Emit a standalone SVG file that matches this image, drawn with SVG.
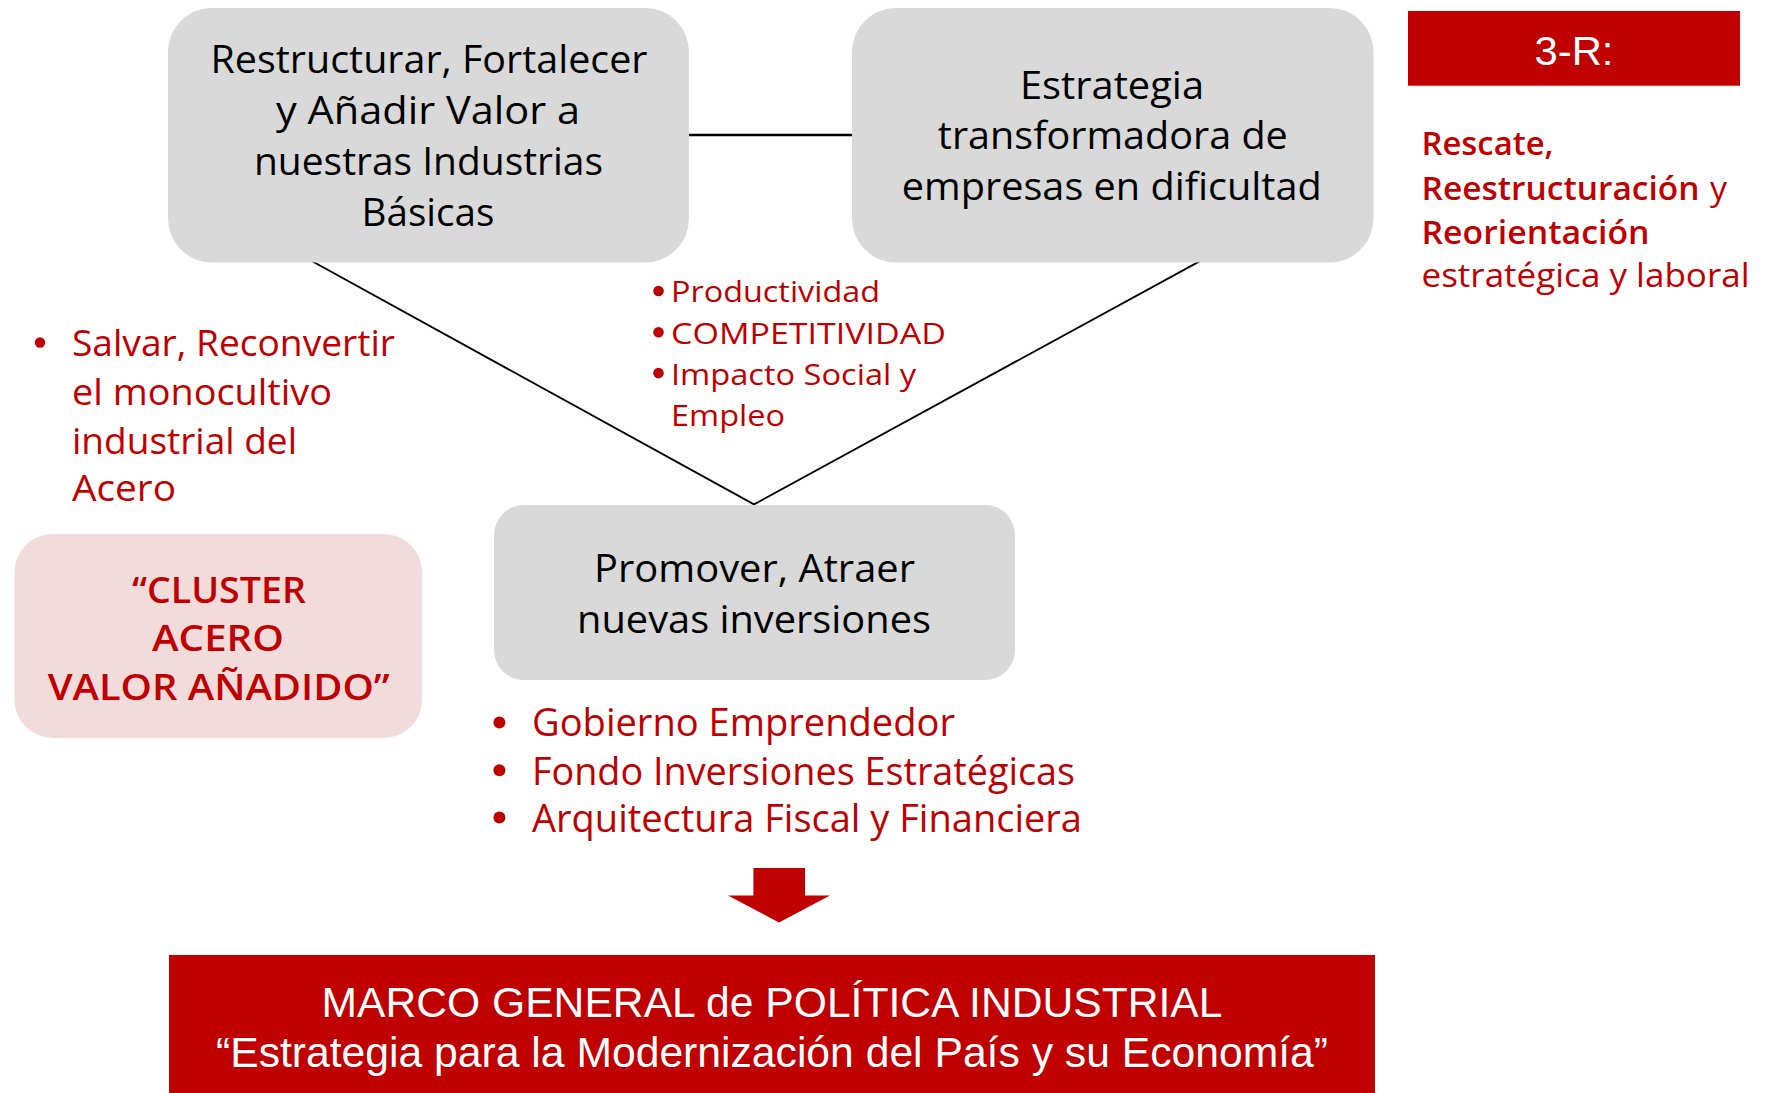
<svg xmlns="http://www.w3.org/2000/svg" width="1767" height="1093" viewBox="0 0 1767 1093">
<style>
.box{fill:#D9D9D9}
.dark{font-family:"Open Sans","Noto Sans","DejaVu Sans",sans-serif;fill:#000;font-size:38px}
.red{font-family:"Open Sans","Noto Sans","DejaVu Sans",sans-serif;fill:#C00000}
.mid{text-anchor:middle}
.arial{font-family:"Liberation Sans",Arial,sans-serif;fill:#fff}
.conn{stroke:#000;fill:none}
.dot{fill:#C00000}
</style>
<rect width="1767" height="1093" fill="#fff"/>
<g id="connectors">
<line class="conn" x1="689" y1="135" x2="853" y2="135" stroke-width="2.6"/>
<polyline class="conn" points="309,259.5 754,504.4 1199.5,261.4" stroke-width="1.8"/>
</g>
<g id="node-restructurar">
<rect class="box" x="168" y="8" width="521" height="254.5" rx="44"/>
<text class="dark mid" x="429" y="72.7" textLength="437" lengthAdjust="spacingAndGlyphs">Restructurar, Fortalecer</text>
<text class="dark mid" x="428" y="124.4" textLength="304" lengthAdjust="spacingAndGlyphs">y Añadir Valor a</text>
<text class="dark mid" x="428.5" y="175.3" textLength="349" lengthAdjust="spacingAndGlyphs">nuestras Industrias</text>
<text class="dark mid" x="428" y="225.8" textLength="133" lengthAdjust="spacingAndGlyphs">Básicas</text>
</g>
<g id="node-estrategia">
<rect class="box" x="852" y="8" width="521.5" height="254.5" rx="44"/>
<text class="dark mid" x="1112" y="98.7" textLength="184" lengthAdjust="spacingAndGlyphs">Estrategia</text>
<text class="dark mid" x="1112.8" y="149" textLength="350" lengthAdjust="spacingAndGlyphs">transformadora de</text>
<text class="dark mid" x="1111.8" y="200" textLength="420" lengthAdjust="spacingAndGlyphs">empresas en dificultad</text>
</g>
<g id="node-3r">
<rect x="1408" y="11" width="332" height="74.7" fill="#C00000"/>
<text class="arial mid" x="1574" y="65" font-size="40" textLength="79" lengthAdjust="spacingAndGlyphs">3-R:</text>
</g>
<g id="text-3r">
<text class="red" x="1421.5" y="155" font-size="32.5" font-weight="600" textLength="132" lengthAdjust="spacingAndGlyphs">Rescate,</text>
<text class="red" x="1421.5" y="199.8" font-size="32.5" font-weight="600" textLength="278" lengthAdjust="spacingAndGlyphs">Reestructuración</text>
<text class="red" x="1710" y="199.8" font-size="32.5" textLength="17" lengthAdjust="spacingAndGlyphs">y</text>
<text class="red" x="1421.5" y="243.8" font-size="32.5" font-weight="600" textLength="228" lengthAdjust="spacingAndGlyphs">Reorientación</text>
<text class="red" x="1421.5" y="287" font-size="32.5" textLength="328" lengthAdjust="spacingAndGlyphs">estratégica y laboral</text>
</g>
<g id="bullets-salvar">
<circle class="dot" cx="40" cy="342.5" r="5.2"/>
<text class="red" x="72" y="356" font-size="36" textLength="323" lengthAdjust="spacingAndGlyphs">Salvar, Reconvertir</text>
<text class="red" x="72" y="404.5" font-size="36" textLength="260" lengthAdjust="spacingAndGlyphs">el monocultivo</text>
<text class="red" x="72" y="453.5" font-size="36" textLength="225" lengthAdjust="spacingAndGlyphs">industrial del</text>
<text class="red" x="72" y="500.6" font-size="36" textLength="104" lengthAdjust="spacingAndGlyphs">Acero</text>
</g>
<g id="bullets-productividad">
<circle class="dot" cx="658.5" cy="291" r="5.3"/>
<circle class="dot" cx="658.5" cy="332.2" r="5.3"/>
<circle class="dot" cx="658.5" cy="373.1" r="5.3"/>
<text class="red" x="671" y="302" font-size="30" textLength="209" lengthAdjust="spacingAndGlyphs">Productividad</text>
<text class="red" x="671" y="343.7" font-size="30" textLength="275" lengthAdjust="spacingAndGlyphs">COMPETITIVIDAD</text>
<text class="red" x="671" y="384.6" font-size="30" textLength="245" lengthAdjust="spacingAndGlyphs">Impacto Social y</text>
<text class="red" x="671" y="426" font-size="30" textLength="114" lengthAdjust="spacingAndGlyphs">Empleo</text>
</g>
<g id="node-cluster">
<rect x="14.5" y="534" width="407.5" height="204" rx="38" fill="#F2DCDB"/>
<text class="red mid" x="219" y="603" font-size="36" font-weight="600" textLength="174" lengthAdjust="spacingAndGlyphs">“CLUSTER</text>
<text class="red mid" x="218" y="651" font-size="36" font-weight="600" textLength="132" lengthAdjust="spacingAndGlyphs">ACERO</text>
<text class="red mid" x="218.7" y="699.7" font-size="36" font-weight="600" textLength="342" lengthAdjust="spacingAndGlyphs">VALOR AÑADIDO”</text>
</g>
<g id="node-promover">
<rect class="box" x="494" y="505" width="521" height="175" rx="30"/>
<text class="dark mid" x="754.5" y="581.8" textLength="321" lengthAdjust="spacingAndGlyphs">Promover, Atraer</text>
<text class="dark mid" x="754" y="632.7" textLength="354" lengthAdjust="spacingAndGlyphs">nuevas inversiones</text>
</g>
<g id="bullets-gobierno">
<circle class="dot" cx="499.4" cy="722.6" r="6"/>
<circle class="dot" cx="499.4" cy="770.3" r="6"/>
<circle class="dot" cx="499.4" cy="817.5" r="6"/>
<text class="red" x="532" y="736" font-size="37.5" textLength="423" lengthAdjust="spacingAndGlyphs">Gobierno Emprendedor</text>
<text class="red" x="532" y="784.6" font-size="37.5" textLength="543" lengthAdjust="spacingAndGlyphs">Fondo Inversiones Estratégicas</text>
<text class="red" x="532" y="831.7" font-size="37.5" textLength="550" lengthAdjust="spacingAndGlyphs">Arquitectura Fiscal y Financiera</text>
</g>
<g id="arrow-down">
<polygon points="753.4,868 805,868 805,895.6 830,895.6 779,922.4 728,895.6 753.4,895.6" fill="#C00000"/>
</g>
<g id="node-marco">
<rect x="169" y="955" width="1206" height="138" fill="#C00000"/>
<text class="arial mid" x="772" y="1017" font-size="42.5" textLength="901" lengthAdjust="spacingAndGlyphs">MARCO GENERAL de POLÍTICA INDUSTRIAL</text>
<text class="arial mid" x="772" y="1067" font-size="42.5" textLength="1112" lengthAdjust="spacingAndGlyphs">“Estrategia para la Modernización del País y su Economía”</text>
</g>
</svg>
